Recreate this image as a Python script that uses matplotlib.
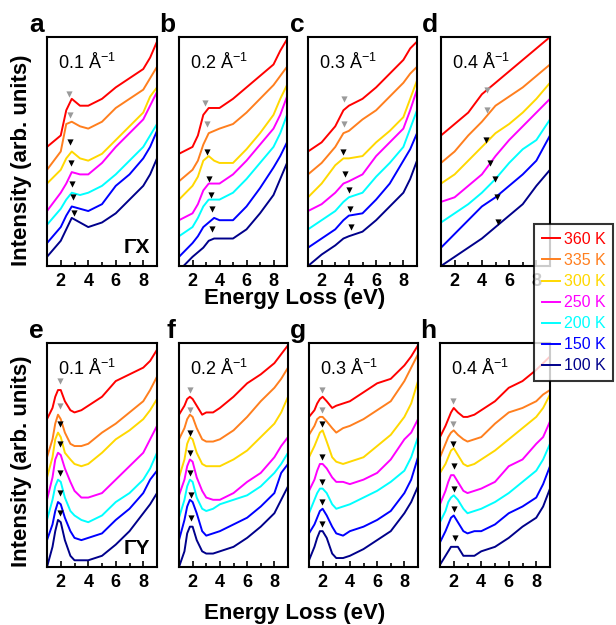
import matplotlib
matplotlib.use("Agg")
import matplotlib.pyplot as plt
from matplotlib.ticker import MultipleLocator

plt.rcParams['font.family'] = ['Liberation Sans', 'DejaVu Sans']
plt.rcParams['mathtext.fontset'] = 'custom'
plt.rcParams['mathtext.rm'] = 'Liberation Sans'

temps = ['360 K', '335 K', '300 K', '250 K', '200 K', '150 K', '100 K']
colors = ['#ff0000', '#ff7f1e', '#ffd800', '#ff00ff', '#00ffff', '#0000ff', '#00008b']

# energy grids (eV)
e_a = [1, 2, 2.4, 2.8, 3.4, 4, 5, 6, 7, 8, 8.5, 9]
e_b = [1, 2, 2.4, 2.8, 3.2, 3.6, 4, 5, 6, 7, 8, 8.5, 9]
e_c = [1, 2, 3, 3.6, 4, 5, 6, 7, 8, 8.5, 9]
e_d = [1, 2, 3, 4, 5, 6, 7, 8, 9]
e_bot = [1, 1.4, 1.6, 1.8, 2, 2.3, 2.7, 3, 3.5, 4, 5, 6, 7, 8, 8.5, 9]

# intensities (offset, arb. units), rows = 360 K ... 100 K
a_int = [
    [52, 57, 68, 73, 70, 70, 73, 78, 82, 86, 91, 98],
    [42, 50, 62, 63, 61, 60, 63, 69, 73, 77, 82, 87],
    [36, 42, 47, 50, 47, 46, 49, 55, 61, 67, 74, 78],
    [24, 32, 36, 41, 40, 40, 45, 52, 58, 64, 70, 76],
    [18, 25, 29, 32, 31, 32, 35, 40, 46, 52, 57, 62],
    [10, 17, 22, 26, 25, 24, 27, 35, 40, 47, 52, 59],
    [4, 11, 16, 21, 19, 17, 19, 23, 29, 35, 40, 47],
]
b_int = [
    [49, 52, 57, 66, 69, 69, 69, 73, 78, 83, 88, 94, 99],
    [37, 42, 46, 53, 58, 59, 60, 62, 67, 73, 79, 83, 87],
    [29, 35, 39, 46, 48, 46, 45, 45, 51, 58, 66, 73, 79],
    [20, 23, 27, 33, 36, 36, 36, 40, 46, 53, 60, 66, 74],
    [13, 17, 21, 26, 29, 29, 29, 32, 38, 45, 52, 58, 66],
    [4, 10, 13, 17, 19, 21, 20, 20, 26, 34, 43, 48, 54],
    [-2, 4, 6, 8, 11, 12, 12, 12, 16, 23, 31, 38, 45],
]
c_int = [
    [50, 54, 61, 68, 70, 73, 78, 84, 90, 95, 98],
    [40, 45, 52, 58, 59, 64, 68, 74, 80, 84, 87],
    [30, 36, 44, 47, 47, 48, 54, 59, 65, 73, 81],
    [24, 27, 32, 36, 37, 40, 48, 54, 60, 68, 77],
    [16, 20, 24, 28, 30, 32, 39, 45, 52, 60, 68],
    [8, 12, 16, 20, 22, 23, 29, 36, 46, 51, 58],
    [0, 5, 9, 12, 13, 15, 20, 26, 32, 38, 46],
]
d_int = [
    [57, 62, 67, 75, 80, 85, 90, 95, 100],
    [45, 50, 57, 63, 70, 74, 78, 83, 88],
    [36, 40, 46, 52, 58, 62, 67, 73, 80],
    [28, 30, 35, 40, 48, 55, 61, 67, 73],
    [19, 23, 27, 32, 38, 45, 51, 55, 64],
    [8, 14, 20, 26, 30, 35, 40, 46, 57],
    [0, 4, 8, 12, 17, 22, 27, 35, 42],
]
e_int = [
    [66, 71, 76, 79, 79, 74, 70, 69, 70, 72, 76, 83, 86, 89, 92, 97],
    [49, 57, 64, 68, 66, 60, 55, 54, 54, 55, 60, 64, 69, 74, 79, 85],
    [40, 49, 57, 60, 58, 51, 48, 46, 45, 46, 51, 57, 61, 66, 70, 75],
    [30, 40, 48, 51, 50, 44, 38, 34, 31, 31, 33, 39, 45, 51, 57, 63],
    [21, 30, 36, 39, 38, 31, 25, 23, 21, 20, 23, 29, 33, 39, 44, 51],
    [12, 19, 25, 29, 28, 22, 16, 13, 12, 13, 15, 21, 26, 33, 39, 43],
    [0, 9, 16, 21, 20, 12, 5, 3, 3, 3, 5, 10, 16, 24, 28, 33],
]
f_int = [
    [68, 72, 75, 76, 75, 72, 68, 69, 69, 71, 76, 82, 86, 91, 95, 99],
    [57, 62, 66, 68, 67, 62, 57, 56, 56, 57, 61, 67, 74, 80, 84, 89],
    [40, 48, 55, 58, 57, 51, 46, 45, 45, 45, 48, 52, 58, 64, 69, 76],
    [32, 39, 45, 48, 47, 40, 34, 31, 30, 30, 33, 38, 42, 49, 54, 58],
    [22, 30, 36, 39, 38, 31, 26, 25, 26, 28, 30, 32, 36, 42, 46, 51],
    [12, 21, 27, 30, 29, 24, 16, 14, 15, 16, 19, 22, 27, 33, 42, 46],
    [0, 7, 15, 18, 18, 12, 7, 6, 6, 7, 9, 13, 18, 24, 30, 36],
]
g_int = [
    [67, 70, 73, 75, 76, 74, 71, 72, 73, 74, 78, 82, 84, 90, 94, 99],
    [59, 63, 66, 67, 67, 65, 62, 60, 62, 63, 66, 70, 74, 83, 89, 95],
    [49, 54, 57, 60, 61, 56, 49, 47, 46, 47, 49, 54, 59, 67, 73, 83],
    [34, 39, 43, 46, 46, 44, 40, 38, 38, 37, 39, 42, 48, 57, 60, 66],
    [24, 30, 33, 35, 35, 33, 28, 26, 27, 28, 31, 34, 38, 43, 49, 58],
    [15, 19, 22, 25, 26, 23, 18, 15, 14, 16, 18, 21, 25, 33, 39, 49],
    [3, 9, 13, 16, 16, 13, 6, 4, 4, 5, 8, 12, 16, 24, 29, 36],
]
h_int = [
    [58, 63, 66, 69, 71, 69, 67, 67, 68, 70, 74, 80, 83, 88, 91, 94],
    [49, 55, 58, 60, 61, 59, 57, 56, 57, 58, 64, 69, 71, 74, 77, 79],
    [42, 46, 49, 52, 53, 50, 46, 45, 46, 48, 52, 57, 62, 67, 71, 77],
    [28, 34, 38, 41, 41, 38, 34, 33, 34, 35, 38, 45, 48, 55, 58, 65],
    [20, 25, 29, 31, 32, 30, 26, 24, 25, 26, 29, 33, 38, 43, 48, 55],
    [11, 16, 19, 22, 23, 20, 16, 15, 16, 16, 19, 24, 27, 31, 37, 45],
    [1, 5, 7, 9, 9, 9, 5, 5, 5, 7, 9, 13, 18, 22, 27, 35],
]

# peak markers (energy, intensity), first two grey (360 K, 335 K)
a_mark_e = [2.6, 2.65, 2.7, 2.73, 2.8, 2.87, 2.95]
a_mark_y = [75, 66, 54, 45, 36, 30, 23]
b_mark_e = [2.9, 3.1, 3.08, 3.2, 3.4, 3.47, 3.47]
b_mark_y = [71, 62, 50, 38, 31, 25, 16]
c_mark_e = [3.66, 3.66, 3.54, 3.73, 4.0, 4.05, 4.12]
c_mark_y = [73, 62, 50, 40, 33, 25, 17]
d_mark_e = [4.36, 4.4, 4.27, 4.56, 4.93, 5.12, 5.22]
d_mark_y = [77, 68, 55, 45, 38, 30, 19]
e_mark_e = [1.95, 1.95, 1.95, 1.95, 1.95, 1.95, 1.95]
e_mark_y = [83, 72, 64, 55, 42, 33, 24]
f_mark_e = [1.8, 1.8, 1.8, 1.8, 1.8, 1.85, 1.85]
f_mark_y = [79, 70, 60, 51, 42, 32, 22]
g_mark_e = [1.93, 1.93, 1.93, 1.93, 1.93, 1.93, 1.93]
g_mark_y = [79, 70, 64, 49, 38, 29, 19]
h_mark_e = [1.95, 1.95, 1.95, 2.0, 2.05, 2.05, 2.1]
h_mark_y = [74, 64, 55, 45, 35, 26, 13]

q_labels = ['0.1 Å$^{\\mathregular{-1}}$', '0.2 Å$^{\\mathregular{-1}}$',
            '0.3 Å$^{\\mathregular{-1}}$', '0.4 Å$^{\\mathregular{-1}}$']

W, H = 616, 625
fig = plt.figure(figsize=(W / 100, H / 100), dpi=100)


def box(x0, y0, x1, y1):
    return [x0 / W, 1 - y1 / H, (x1 - x0) / W, (y1 - y0) / H]


panels = [
    ('a', box(47, 37, 157, 266), e_a, a_int, a_mark_e, a_mark_y, 0),
    ('b', box(179, 37, 287, 266), e_b, b_int, b_mark_e, b_mark_y, 1),
    ('c', box(308, 37, 417, 266), e_c, c_int, c_mark_e, c_mark_y, 2),
    ('d', box(441, 37, 550, 266), e_d, d_int, d_mark_e, d_mark_y, 3),
    ('e', box(47, 343, 157, 567), e_bot, e_int, e_mark_e, e_mark_y, 0),
    ('f', box(179, 343, 288, 567), e_bot, f_int, f_mark_e, f_mark_y, 1),
    ('g', box(309, 343, 418, 567), e_bot, g_int, g_mark_e, g_mark_y, 2),
    ('h', box(440, 343, 550, 567), e_bot, h_int, h_mark_e, h_mark_y, 3),
]

for letter, pos, en, ints, me, my, qi in panels:
    ax = fig.add_axes(pos)
    for k in range(7):
        ax.plot(en, ints[k], color=colors[k], lw=1.4, label=temps[k])
    ax.scatter(me[:2], my[:2], marker='v', s=20, color='#9a9a9a', zorder=5, lw=0)
    ax.scatter(me[2:], my[2:], marker='v', s=20, color='black', zorder=5, lw=0)
    ax.set_xlim(1, 9)
    ax.set_ylim(0, 100)
    ax.set_yticks([])
    ax.set_xticks([2, 4, 6, 8])
    ax.xaxis.set_minor_locator(MultipleLocator(1))
    ax.tick_params(axis='x', direction='in', length=4, width=1.2, pad=5,
                   labelsize=13)
    ax.tick_params(axis='x', which='minor', direction='in', length=3, width=1.2)
    for lab in ax.get_xticklabels():
        lab.set_fontweight('bold')
    for sp in ax.spines.values():
        sp.set_linewidth(1.5)
    ax.text(0.1, 0.93, q_labels[qi], transform=ax.transAxes, fontsize=13,
            va='top', ha='left')
    ax.text(-0.03, 1.0, letter, transform=ax.transAxes, fontsize=19,
            fontweight='bold', ha='right', va='bottom')
    if letter == 'a':
        ax.text(0.94, 0.04, 'ΓX', transform=ax.transAxes, fontsize=15,
                fontweight='bold', ha='right', va='bottom')
        handles, labels = ax.get_legend_handles_labels()
    if letter == 'e':
        ax.text(0.94, 0.04, 'ΓY', transform=ax.transAxes, fontsize=15,
                fontweight='bold', ha='right', va='bottom')

fig.text(22 / W, 1 - 160 / H, 'Intensity (arb. units)', rotation=90,
         fontsize=16, fontweight='bold', ha='center', va='center')
fig.text(22 / W, 1 - 461 / H, 'Intensity (arb. units)', rotation=90,
         fontsize=16, fontweight='bold', ha='center', va='center')
fig.text(295 / W, 1 - 299 / H, 'Energy Loss (eV)', fontsize=16,
         fontweight='bold', ha='center', va='center')
fig.text(295 / W, 1 - 613 / H, 'Energy Loss (eV)', fontsize=16,
         fontweight='bold', ha='center', va='center')

leg = fig.legend(handles, labels, loc='upper left',
                 bbox_to_anchor=(534 / W, 1 - 224 / H), fontsize=11.5,
                 labelcolor='linecolor', frameon=True, fancybox=False,
                 handlelength=1.15, handletextpad=0.2, labelspacing=0.38,
                 borderpad=0.5, borderaxespad=0)
leg.get_frame().set_edgecolor('black')
leg.get_frame().set_linewidth(1.5)
leg.set_zorder(10)

fig.savefig('out.png', dpi=100)
